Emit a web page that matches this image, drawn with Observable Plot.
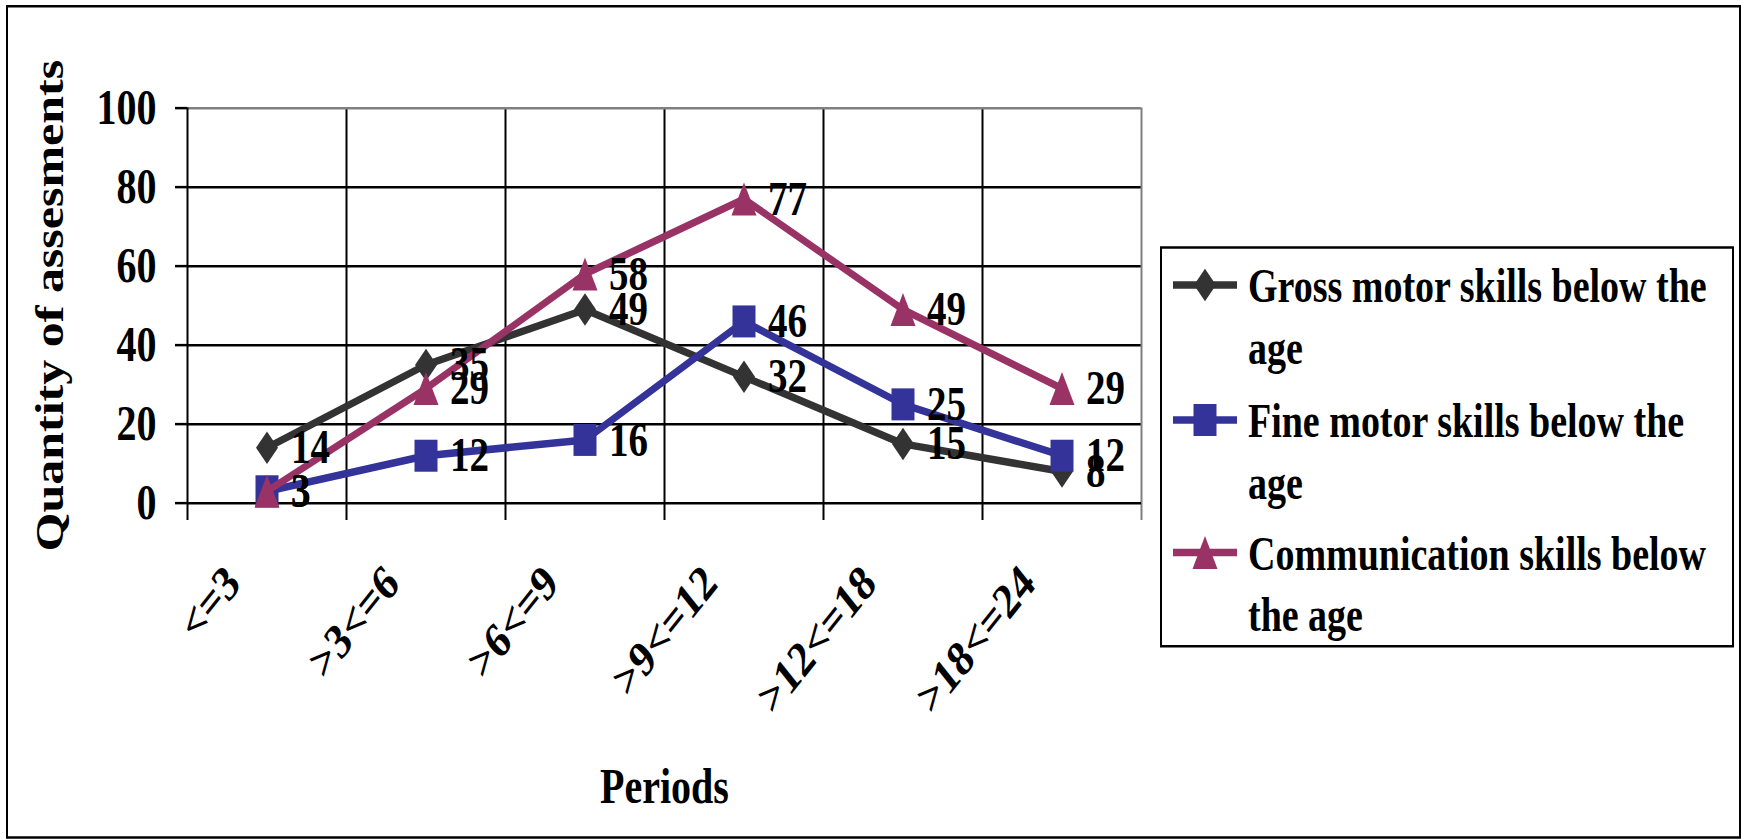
<!DOCTYPE html>
<html><head><meta charset="utf-8">
<script src="https://cdn.jsdelivr.net/npm/d3@7"></script>
<script src="https://cdn.jsdelivr.net/npm/@observablehq/plot@0.6"></script>
<style>
html,body{margin:0;padding:0;background:#fff;overflow:hidden;}
#stage{position:absolute;left:0;top:0;width:1741px;height:672px;transform:scaleY(1.25);transform-origin:0 0;font-family:"Liberation Serif","Times New Roman",serif;font-weight:bold;}
#frame{position:absolute;left:6px;top:4px;width:1735px;height:667px;box-sizing:border-box;border:2px solid #000;}
#chart,#legend{position:absolute;left:0;top:0;}
</style></head><body>
<div id="stage"><div id="frame"></div><div id="chart"></div><svg id="legend" width="1741" height="672"></svg></div>
<script>
// ---- data ----
const periods = ["<=3", ">3<=6", ">6<=9", ">9<=12", ">12<=18", ">18<=24"];
const grossMotor = [14, 35, 49, 32, 15, 8];
const fineMotor = [3, 12, 16, 46, 25, 12];
const communication = [3, 29, 58, 77, 49, 29];
const seriesNames = ["Gross motor skills below the age", "Fine motor skills below the age", "Communication skills below the age"];
const legendLines = [["Gross motor skills below the", "age"], ["Fine motor skills below the", "age"], ["Communication skills below", "the age"]];
const seriesColors = ["#333333", "#333399", "#993366"];
const yTicks = [0, 20, 40, 60, 80, 100];
const yTitle = "Quantity of assesments";
const xTitle = "Periods";

// ---- marker shapes ----
const diamondSym = {draw(ctx) { ctx.moveTo(0, -13); ctx.lineTo(11, 0); ctx.lineTo(0, 13); ctx.lineTo(-11, 0); ctx.closePath(); }};
const squareSym = {draw(ctx) { ctx.rect(-11.5, -12.8, 23, 25.6); }};
const triangleSym = {draw(ctx) { ctx.moveTo(0, -13.2); ctx.lineTo(12.5, 13.2); ctx.lineTo(-12.5, 13.2); ctx.closePath(); }};
const symbols = [diamondSym, squareSym, triangleSym];

const series = [grossMotor, fineMotor, communication].map((values, k) => ({
  name: seriesNames[k], values, color: seriesColors[k], symbol: symbols[k]
}));

const bounds = d3.range(periods.length + 1).map(i => i - 0.5);
const font = "'Liberation Serif', 'Times New Roman', serif";

const plot = Plot.plot({
  width: 1741, height: 672,
  marginLeft: 187, marginRight: 600, marginTop: 86, marginBottom: 270,
  x: {type: "linear", domain: [-0.5, periods.length - 0.5], axis: null},
  y: {domain: [0, 100]},
  style: {fontFamily: font, fontWeight: "bold", color: "#000", background: "transparent", overflow: "visible"},
  marks: [
    Plot.ruleY(yTicks.slice(1, -1), {stroke: "#000", strokeWidth: 2}),
    Plot.ruleX(bounds.slice(1, -1), {stroke: "#000", strokeWidth: 2, insetBottom: -14}),
    Plot.ruleY([100], {stroke: "#808080", strokeWidth: 2}),
    Plot.ruleX([bounds[bounds.length - 1]], {stroke: "#808080", strokeWidth: 2, insetBottom: -14}),
    Plot.ruleX([bounds[0]], {stroke: "#000", strokeWidth: 2, insetBottom: -14}),
    Plot.ruleY([0], {stroke: "#000", strokeWidth: 2}),
    Plot.axisY({ticks: yTicks, tickSize: 12, tickPadding: 19, fontSize: 40, strokeWidth: 2, label: null}),
    Plot.text(periods, {x: (d, i) => i, text: d => d, frameAnchor: "bottom", rotate: -45, textAnchor: "end", lineAnchor: "middle", dx: -34, dy: 57, fontSize: 40}),
    Plot.text([xTitle], {frameAnchor: "bottom", dy: 240, lineAnchor: "bottom", textAnchor: "middle", fontSize: 40}),
    Plot.text([yTitle], {frameAnchor: "left", rotate: -90, dx: -137, lineAnchor: "middle", textAnchor: "middle", fontSize: 40}),
    ...series.flatMap(s => [
      Plot.line(s.values, {x: (d, i) => i, y: d => d, stroke: s.color, strokeWidth: 6}),
      Plot.dot(s.values, {x: (d, i) => i, y: d => d, symbol: s.symbol, fill: s.color, stroke: "none", r: 12})
    ]),
    ...series.map(s => Plot.text(s.values, {x: (d, i) => i, y: d => d, text: d => String(d), dx: 24, textAnchor: "start", lineAnchor: "middle", fontSize: 39}))
  ]
});
document.getElementById("chart").appendChild(plot);

// ---- legend ----
const lg = d3.select("#legend").style("font-family", font).style("font-weight", "bold");
lg.append("rect").attr("x", 1161).attr("y", 198).attr("width", 572).attr("height", 319)
  .attr("fill", "#fff").attr("stroke", "#000").attr("stroke-width", 2);
const baselines = [242, 350, 456];
series.forEach((s, k) => {
  const yb = baselines[k];
  const ys = yb - 14;
  lg.append("line").attr("x1", 1173).attr("x2", 1237).attr("y1", ys).attr("y2", ys)
    .attr("stroke", s.color).attr("stroke-width", 6);
  lg.append("path").attr("d", d3.symbol(s.symbol, 144)()).attr("transform", `translate(1205,${ys})`).attr("fill", s.color);
  legendLines[k].forEach((t, j) => {
    lg.append("text").attr("x", 1248).attr("y", yb + j * 49).attr("font-size", 38).attr("fill", "#000").text(t);
  });
});
</script>
</body></html>
